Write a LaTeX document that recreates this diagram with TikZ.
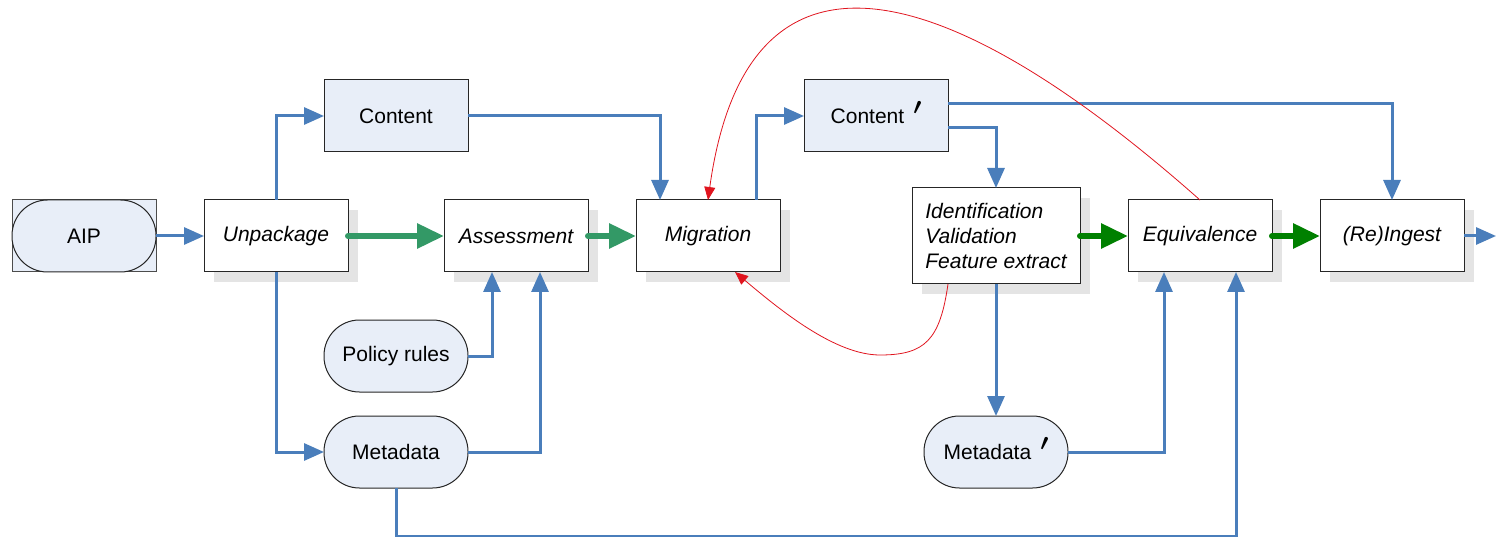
\documentclass[tikz,border=0pt]{standalone}
\usepackage{fontspec}
\usepackage{graphicx}
\setmainfont{Liberation Sans}
\usetikzlibrary{arrows.meta,shadows,calc}
\definecolor{boxfill}{HTML}{E8EEF8}
\definecolor{lineblue}{HTML}{4A7EBB}
\definecolor{tealgreen}{HTML}{339966}
\definecolor{darkgreen}{HTML}{008000}
\definecolor{shadowgray}{HTML}{E4E4E4}
\definecolor{redline}{HTML}{E0141E}
\newcommand{\myprime}{\hspace{9pt}\smash{\raisebox{9pt}{\resizebox{!}{13pt}{$\boldsymbol{\prime}$}}}}
\usepackage{amsmath}
\usepackage{amsbsy}
\begin{document}
\begin{tikzpicture}[x=1pt,y=1pt,
 every node/.style={font=\fontsize{21}{25}\selectfont, inner sep=0pt, outer sep=0pt},
 procbox/.style={draw=black!85, line width=1pt, fill=white, minimum width=144pt, minimum height=72pt,
   font=\fontsize{21}{25}\selectfont\itshape,
   general shadow={fill=shadowgray, shadow xshift=10pt, shadow yshift=-10pt}},
 databox/.style={draw=black!85, line width=1pt, fill=boxfill, minimum width=144pt, minimum height=72pt},
 stadium/.style={draw=black!85, line width=1pt, fill=boxfill, rounded corners=35.5pt, minimum width=144pt, minimum height=72pt},
 flow/.style={draw=lineblue, line width=3pt, -{Triangle[length=20pt,width=17pt]}},
 gflow/.style={line width=6pt, line cap=round, -{Triangle[length=27pt,width=24pt]}},
 redflow/.style={draw=redline, line width=0.8pt, -{Triangle[length=13pt,width=11pt]}}]
\useasboundingbox (0,0) rectangle (1496,-537);
% AIP background
\draw[draw=black!70, line width=1pt, fill=boxfill] (12,-200) rectangle (156,-272);
\node[stadium] (aip) at (84,-236) {AIP};
\node[procbox] (unp) at (276,-236) {Unpackage};
\node[databox] (cont) at (396,-116) {Content};
\node[procbox] (ass) at (516,-236) {Assessment};
\node[procbox] (mig) at (708,-236) {Migration};
\node[stadium] (pol) at (396,-356) {Policy rules};
\node[stadium] (meta) at (396,-452) {Metadata};
\node[databox] (contp) at (876,-116) {Content\myprime};
\node[procbox, minimum width=168pt, minimum height=96pt, align=left] (ident) at (996,-236) {Identification\\Validation\\Feature extract};
\node[procbox] (eq) at (1200,-236) {Equivalence};
\node[procbox] (ing) at (1392,-236) {(Re)Ingest};
\node[stadium] (metap) at (996,-452) {Metadata\myprime};
\coordinate (out) at (1496,-236);
% blue connectors
\draw[flow] (aip.east) -- (unp.west);
\draw[flow] (unp.north) |- (cont.west);
\draw[flow] (unp.south) |- (meta.west);
\draw[flow] (cont.east) -| ([xshift=-48pt]mig.north);
\draw[flow] (pol.east) -| ([xshift=-24pt]ass.south);
\draw[flow] (meta.east) -| ([xshift=24pt]ass.south);
\draw[flow] (meta.south) -- ++(0,-48) -| ([xshift=36pt]eq.south);
\draw[flow] ([xshift=48pt]mig.north) |- (contp.west);
\draw[flow] ([yshift=12pt]contp.east) -| (ing.north);
\draw[flow] ([yshift=-12pt]contp.east) -| (ident.north);
\draw[flow] (ident.south) -- (metap.north);
\draw[flow] (metap.east) -| ([xshift=-36pt]eq.south);
\draw[flow] (ing.east) -- (out);
% green connectors
\draw[gflow, draw=tealgreen, fill=tealgreen] (unp.east) -- (ass.west);
\draw[gflow, draw=tealgreen, fill=tealgreen] (ass.east) -- (mig.west);
\draw[gflow, draw=darkgreen, fill=darkgreen] (ident.east) -- (eq.west);
\draw[gflow, draw=darkgreen, fill=darkgreen] (eq.east) -- (ing.west);
% red feedback curves
\draw[redflow] (eq.north) .. controls (938,32) and (746,74) .. (mig.north);
\draw[redflow] ([xshift=36pt]ident.south west) .. controls (940,-340) and (925,-355) .. (880,-355)
  .. controls (835,-355) and (780,-310) .. ([xshift=27pt]mig.south);
\end{tikzpicture}
\end{document}
